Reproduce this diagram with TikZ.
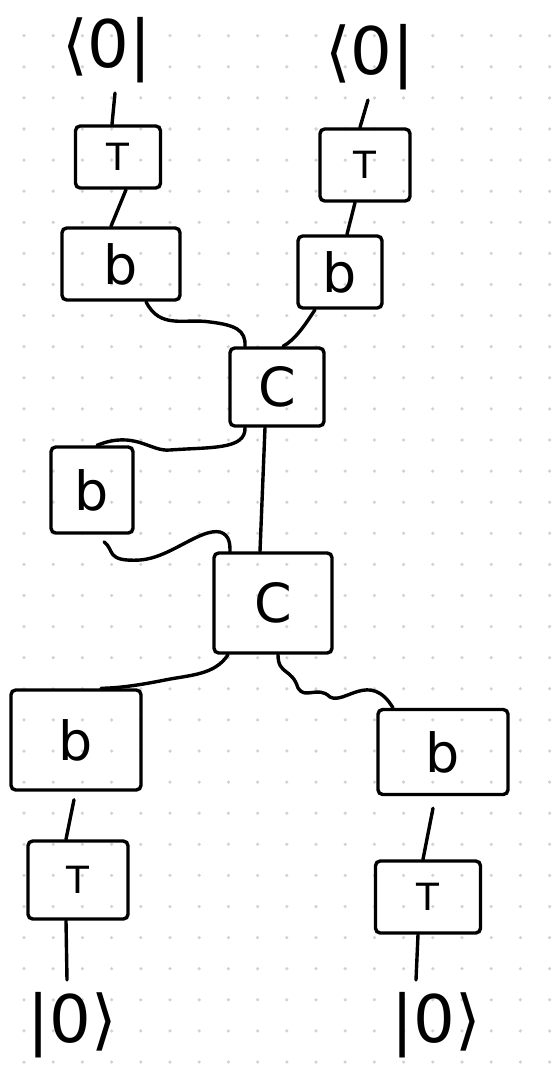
\documentclass[tikz,border=0pt]{standalone}
\usepackage{fontspec}
\setmainfont{DejaVu Sans}
\usetikzlibrary{calc}
\begin{document}
\begin{tikzpicture}[x={(0.03cm,0)},y={(0,-0.03cm)},
  wire/.style={line width=2.9pt, line cap=round, line join=round},
  gate/.style={draw, line width=2.9pt, rounded corners=4pt, inner sep=0pt, font=\fontsize{46}{46}\selectfont},
  sz/.style 2 args={minimum width=#1, minimum height=#2},
  small/.style={font=\fontsize{32}{32}\selectfont},
  ket/.style={font=\fontsize{56}{56}\selectfont, inner sep=0pt}]
\useasboundingbox (0,0) rectangle (555,1069);
\fill[white] (0,0) rectangle (555,1069);
\foreach \i in {0,...,18} \foreach \j in {0,...,33}
  \fill[gray!35] (24+29.2*\i, 35.7+31.1*\j) circle[radius=1.5pt];

% states
\node[ket] (k1) at (107,50) {⟨0|};
\node[ket] (k2) at (370,57) {⟨0|};
\node[ket] (k3) at (72,1025) {|0⟩};
\node[ket] (k4) at (436,1025) {|0⟩};

% gates
\node[gate, small, sz={2.55cm}{1.86cm}] (t1) at (118,157) {T};
\node[gate, small, sz={2.7cm}{2.16cm}]  (t2) at (365,165) {T};
\node[gate, sz={3.54cm}{2.16cm}] (b1) at (121,264) {b};
\node[gate, sz={2.52cm}{2.16cm}] (b2) at (340,272) {b};
\node[gate, sz={2.82cm}{2.34cm}] (c1) at (277,387) {C};
\node[gate, sz={2.46cm}{2.58cm}] (b3) at (92,490) {b};
\node[gate, sz={3.54cm}{3.0cm}]  (c2) at (273,603) {C};
\node[gate, sz={3.9cm}{3.0cm}]   (b4) at (76,740) {b};
\node[gate, sz={3.9cm}{2.55cm}]  (b5) at (443,752) {b};
\node[gate, small, sz={3.0cm}{2.34cm}]  (t3) at (78,880) {T};
\node[gate, small, sz={3.15cm}{2.16cm}] (t4) at (428,897) {T};

% straight wires
\draw[wire] ($(k1.south)+(8,10)$) -- ($(t1.north)+(-6,0)$);
\draw[wire] ($(t1.south)+(8,0)$) -- ($(b1.north)+(-10,0)$);
\draw[wire] ($(k2.south)+(-2,10)$) -- ($(t2.north)+(-5,0)$);
\draw[wire] ($(t2.south)+(-10,0)$) -- ($(b2.north)+(7,0)$);
\draw[wire] ($(c1.south)+(-12,0)$) -- ($(c2.north)+(-13,0)$);
\draw[wire] ($(b4.south)+(-2,8)$) -- ($(t3.north)+(-12,0)$);
\draw[wire] ($(t3.south)+(-12,0)$) -- ($(k3.north)+(-5,-12)$);
\draw[wire] ($(b5.south)+(-10,12)$) -- ($(t4.north)+(-5,0)$);
\draw[wire] ($(t4.south)+(-10,0)$) -- ($(k4.north)+(-20,-12)$);

% wavy wires
\draw[wire] ($(b1.south)+(25,0)$) .. controls (160,330) and (185,318) .. (210,322)
  .. controls (235,325) and (246,330) .. ($(c1.north)+(-32,0)$);
\draw[wire] ($(b2.south)+(-25,0)$) .. controls (305,325) and (295,340) .. ($(c1.north)+(6,0)$);
\draw[wire] ($(c1.south)+(-32,0)$) .. controls (246,450) and (210,447) .. (170,450)
  .. controls (150,452) and (135,430) .. ($(b3.north)+(5,0)$);
\draw[wire] ($(b3.south)+(12,7)$) .. controls (115,550) and (105,562) .. (140,560)
  .. controls (170,558) and (200,528) .. (220,532)
  .. controls (230,535) and (230,545) .. ($(c2.north)+(-43,0)$);
\draw[wire] ($(c2.south)+(-45,0)$) .. controls (215,675) and (190,675) .. (165,680)
  .. controls (140,685) and (120,688) .. ($(b4.north)+(25,0)$);
\draw[wire] ($(c2.south)+(5,0)$) .. controls (278,675) and (292,668) .. (298,688)
  .. controls (305,700) and (318,685) .. (330,697)
  .. controls (345,705) and (370,670) .. ($(b5.north)+(-50,0)$);
\end{tikzpicture}
\end{document}
